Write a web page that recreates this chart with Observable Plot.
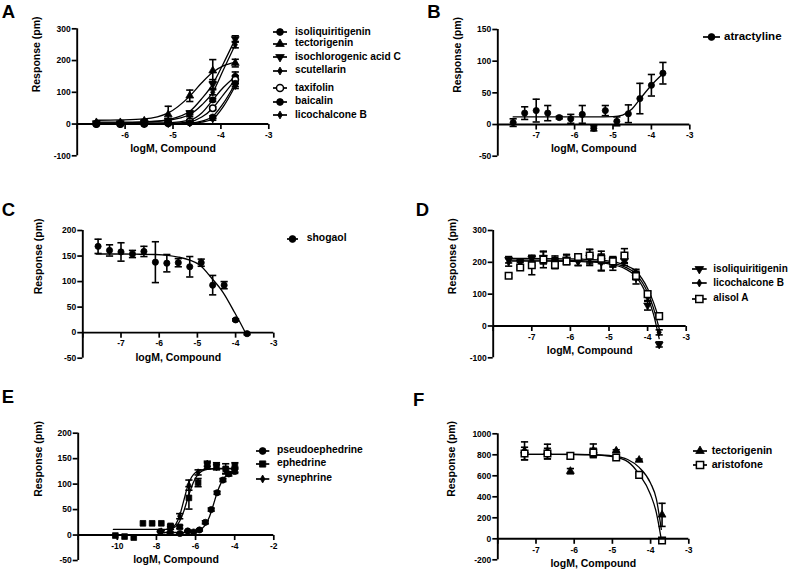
<!DOCTYPE html>
<html><head><meta charset="utf-8">
<script src="https://cdn.jsdelivr.net/npm/d3@7"></script>
<script src="https://cdn.jsdelivr.net/npm/@observablehq/plot@0.6"></script>
<style>
body{margin:0;background:#fff;}
#fig{position:relative;width:789px;height:570px;overflow:hidden;background:#fff;font-family:"Liberation Sans",Arial,Helvetica,sans-serif;font-weight:bold;color:#000;}
.letter{position:absolute;font-size:18.5px;font-weight:bold;line-height:1;}
.ltext{position:absolute;white-space:nowrap;font-weight:bold;}
</style></head><body><div id="fig"></div>
<script>
// ---------------- DATA ----------------
// Panel A
const aConc = [-6.6, -6.1, -5.6, -5.1, -4.65, -4.17, -3.7];
const aIsoliquiritigenin = [0, 0, 2, 4, 10, 76, 150];
const aIsoliquiritigeninSem = [2, 2, 2, 3, 4, 5, 14];
const aTectorigenin = [5, 5, 10, 30, 89, 168, 192];
const aTectorigeninSem = [3, 3, 4, 26, 18, 35, 12];
const aIsochlorogenicAcidC = [3, 3, 5, 12, 35, 126, 268];
const aIsochlorogenicAcidCSem = [2, 2, 3, 4, 6, 14, 10];
const aScutellarin = [4, 4, 6, 10, 28, 100, 250];
const aScutellarinSem = [2, 2, 2, 3, 5, 8, 10];
const aTaxifolin = [0, 0, 1, 3, 8, 50, 140];
const aTaxifolinSem = [1, 1, 1, 2, 3, 5, 12];
const aBaicalin = [0, 0, 0, 2, 4, 22, 128];
const aBaicalinSem = [1, 1, 1, 1, 2, 4, 10];
const aLicochalconeB = [0, 0, 0, 0, 2, 15, 120];
const aLicochalconeBSem = [1, 1, 1, 1, 2, 3, 8];
const aFitConc = [-6.6, -6.1, -5.6, -5.1, -4.65, -4.4, -4.17, -3.95, -3.7];
const aFitIsoliquiritigenin = [2, 2, 3, 4, 12, 35, 76, 115, 150];
const aFitTectorigenin = [12, 13, 16, 35, 88, 130, 163, 183, 194];
const aFitIsochlorogenicAcidC = [4, 4, 6, 14, 40, 80, 126, 190, 268];
const aFitScutellarin = [6, 6, 7, 12, 30, 60, 100, 170, 250];
const aFitTaxifolin = [1, 1, 1, 2, 7, 22, 50, 92, 140];
const aFitBaicalin = [0, 0, 0, 1, 3, 9, 24, 65, 128];
const aFitLicochalconeB = [0, 0, 0, 0, 2, 6, 16, 55, 120];
const aXTicks = [-7, -6, -5, -4, -3];
const aXLabels = [-6, -5, -4, -3];
const aYTicks = [-100, 0, 100, 200, 300];

// Panel B
const bConc = [-7.6, -7.3, -7.0, -6.7, -6.4, -6.1, -5.8, -5.5, -5.2, -4.9, -4.6, -4.3, -4.0, -3.7];
const bAtractyline = [3, 18, 22, 18, 11, 9, 16, -6, 22, 5, 17, 41, 62, 81];
const bAtractylineSem = [6, 10, 18, 12, 2, 7, 14, 4, 8, 7, 14, 24, 17, 17];
const bFitConc = [-7.6, -5.5, -5.0, -4.75, -4.5, -4.3, -4.0, -3.7];
const bFitAtractyline = [12, 12, 12.5, 15, 25, 40, 62, 80];
const bXTicks = [-8, -7, -6, -5, -4, -3];
const bXLabels = [-7, -6, -5, -4, -3];
const bYTicks = [-50, 0, 50, 100, 150];

// Panel C
const cConc = [-7.6, -7.3, -7.0, -6.7, -6.4, -6.1, -5.8, -5.5, -5.2, -4.9, -4.6, -4.3, -4.0, -3.7];
const cShogaol = [169, 161, 158, 154, 159, 138, 136, 137, 129, 137, 93, 93, 25, -2];
const cShogaolSem = [14, 11, 18, 7, 10, 40, 17, 8, 20, 7, 19, 7, 2, 2];
const cFitConc = [-7.65, -7, -6.5, -6.1, -5.5, -5.2, -4.93, -4.63, -4.33, -4.03, -3.84, -3.73];
const cFitShogaol = [154, 154, 153.5, 153, 148, 142, 132, 107, 79, 40, 14, -2];
const cXTicks = [-8, -7, -6, -5, -4, -3];
const cXLabels = [-7, -6, -5, -4, -3];
const cYTicks = [-50, 0, 50, 100, 150, 200];

// Panel D
const dConc = [-7.6, -7.3, -7.0, -6.7, -6.4, -6.1, -5.8, -5.5, -5.2, -4.9, -4.6, -4.3, -4.0, -3.7];
const dIsoliquiritigenin = [208, 200, 212, 215, 205, 210, 205, 215, 205, 195, 205, 152, 65, -58];
const dIsoliquiritigeninSem = [10, 10, 10, 20, 15, 15, 15, 25, 30, 20, 15, 20, 15, 8];
const dLicochalconeB = [200, 192, 205, 208, 200, 208, 200, 210, 198, 200, 212, 168, 90, -20];
const dLicochalconeBSem = [12, 8, 15, 25, 15, 15, 10, 15, 25, 15, 15, 10, 12, 8];
const dAlisolA = [158, 184, 191, 209, 192, 203, 217, 221, 211, 203, 221, 157, 100, 31];
const dAlisolASem = [6, 6, 30, 10, 12, 8, 8, 20, 15, 15, 22, 12, 8, 6];
const dFitConc = [-7.6, -7, -6, -5.5, -5, -4.6, -4.3, -4.0, -3.85, -3.7];
const dFitIsoliquiritigenin = [204, 204, 203, 201, 195, 181, 155, 90, 38, -40];
const dFitLicochalconeB = [207, 207, 206, 204, 199, 186, 163, 105, 57, -8];
const dFitAlisolA = [212, 212, 211, 209, 204, 192, 172, 118, 75, 20];
const dXTicks = [-8, -7, -6, -5, -4, -3];
const dXLabels = [-7, -6, -5, -4, -3];
const dYTicks = [-100, 0, 100, 200, 300];

// Panel E
const ePseudoConc = [-7.8, -7.3, -6.8, -6.4, -6.1, -5.8, -5.5, -5.2, -4.9, -4.6, -4.3, -4.0];
const ePseudoephedrine = [7, 5, 3, 8, 6, 10, 25, 50, 83, 108, 120, 125];
const ePseudoephedrineSem = [1, 1, 1, 1, 1, 2, 3, 3, 3, 3, 4, 4];
const eEphConc = [-10.1, -9.63, -9.16, -8.69, -8.22, -7.75, -7.28, -6.81, -6.34, -5.87, -5.4, -4.93, -4.46, -3.99];
const eEphedrine = [-1, -3, -5, 23, 23, 23, 18, 16, 73, 103, 136, 136, 130, 136];
const eEphedrineSem = [0, 0, 0, 0, 0, 0, 2, 3, 22, 8, 6, 6, 10, 6];
const eSynConc = [-7.75, -7.28, -6.81, -6.34, -5.87, -5.4, -4.93, -4.46, -3.99];
const eSynephrine = [7, 14, 37, 98, 123, 140, 133, 126, 128];
const eSynephrineSem = [2, 3, 5, 10, 5, 5, 5, 5, 5];
const ePseudoFitConc = [-7.8, -6.5, -6.0, -5.7, -5.5, -5.3, -5.1, -4.9, -4.7, -4.5, -4.3, -4.0];
const ePseudoFit = [5, 5, 7, 12, 20, 35, 58, 83, 102, 114, 120, 124];
const eEphFitConc = [-10.2, -7.5, -7.2, -7.0, -6.8, -6.6, -6.4, -6.2, -6.0, -5.8, -5.5, -5.0, -4.0];
const eEphFit = [11, 11, 13, 17, 28, 47, 72, 95, 112, 122, 128, 131, 131];
const eSynFitConc = [-7.5, -7.2, -7.0, -6.8, -6.6, -6.4, -6.2, -6.0, -5.8, -5.5, -5.0, -4.0];
const eSynFit = [11, 14, 22, 40, 68, 96, 114, 123, 127, 129, 130, 130];
const eXTicks = [-12, -10, -8, -6, -4, -2];
const eXLabels = [-10, -8, -6, -4, -2];
const eYTicks = [-50, 0, 50, 100, 150, 200];

// Panel F
const fConc = [-7.3, -6.7, -6.1, -5.5, -4.9, -4.3, -3.7];
const fTectorigenin = [838, 831, 644, 838, 838, 750, 228];
const fTectorigeninSem = [85, 70, 25, 65, 10, 10, 110];
const fAristofone = [812, 812, 790, 822, 775, 609, -16];
const fAristofoneSem = [60, 50, 25, 40, 15, 15, 10];
const fFitConc = [-7.3, -6, -5.5, -5.0, -4.6, -4.3, -4.0, -3.85, -3.72];
const fFitTectorigenin = [805, 804, 801, 790, 755, 680, 530, 380, 90];
const fFitAristofone = [805, 803, 799, 782, 735, 615, 420, 250, -5];
const fXTicks = [-8, -7, -6, -5, -4, -3];
const fXLabels = [-7, -6, -5, -4, -3];
const fYTicks = [-200, 0, 200, 400, 600, 800, 1000];

// ---------------- SYMBOLS / STYLES ----------------
const S3 = Math.sqrt(3);
const triDown = {draw(ctx, size) {const y = Math.sqrt(size / (S3 * 3)); ctx.moveTo(0, 2 * y); ctx.lineTo(-S3 * y, -y); ctx.lineTo(S3 * y, -y); ctx.closePath();}};
const capSym = {draw(ctx, size) {const r = Math.sqrt(size / Math.PI); ctx.moveTo(-r, 0); ctx.lineTo(r, 0);}};
const tickSym = {draw(ctx, size) {const r = Math.sqrt(size / Math.PI); ctx.moveTo(0, 0); ctx.lineTo(0, r);}};
const ST = {
  fcircle: {symbol: d3.symbolCircle, fill: "#000", r: 3.1},
  tri: {symbol: d3.symbolTriangle, fill: "#000", r: 2.9},
  tridown: {symbol: triDown, fill: "#000", r: 2.9},
  diamond: {symbol: d3.symbolDiamond, fill: "#000", r: 2.2},
  ocircle: {symbol: d3.symbolCircle, fill: "#fff", r: 3.2},
  osquare: {symbol: d3.symbolSquare, fill: "#fff", r: 3.7},
  fsquare: {symbol: d3.symbolSquare, fill: "#000", r: 3.2}
};

const fig = document.getElementById("fig");
const FONT = "'Liberation Sans', Arial, Helvetica, sans-serif";

function rows(xs, ys, es) { return xs.map((x, i) => ({x, y: ys[i], e: es ? es[i] : 0})); }

function drawPanel(cfg) {
  const {left, top, w, h, fx0, fx1, fy0, fy1, xDomain, yDomain, xTicks, xLabels, yTicks, series, fits, titleDx} = cfg;
  const marks = [];
  for (const f of fits) marks.push(Plot.line(rows(f.x, f.y), {x: "x", y: "y", curve: "monotone-x", stroke: "#000", strokeWidth: 1.3}));
  for (const s of series) {
    const data = rows(s.x, s.y, s.e).filter(d => d.e > 0);
    marks.push(Plot.ruleX(data, {x: "x", y1: d => d.y - d.e, y2: d => d.y + d.e, stroke: "#000", strokeWidth: 1.6}));
    marks.push(Plot.dot(data, {x: "x", y: d => d.y + d.e, symbol: capSym, r: 3.6, stroke: "#000", strokeWidth: 1.6, fill: "none"}));
    marks.push(Plot.dot(data, {x: "x", y: d => d.y - d.e, symbol: capSym, r: 3.6, stroke: "#000", strokeWidth: 1.6, fill: "none"}));
  }
  for (const s of series) {
    marks.push(Plot.dot(rows(s.x, s.y), {x: "x", y: "y", symbol: s.style.symbol, r: s.style.r, fill: s.style.fill, stroke: "#000", strokeWidth: s.style.fill === "#fff" ? 1.5 : 0.8}));
  }
  marks.push(Plot.ruleY([0], {stroke: "#000", strokeWidth: 1.9}));
  marks.push(Plot.ruleX([xDomain[0]], {stroke: "#000", strokeWidth: 1.9}));
  marks.push(Plot.dot(xTicks, {x: d => d, y: () => 0, symbol: tickSym, r: 5, stroke: "#000", strokeWidth: 1.7, fill: "none"}));
  marks.push(Plot.text(xLabels, {x: d => d, y: () => 0, text: d => String(d), dy: 11, fontSize: 8.5}));
  marks.push(Plot.axisY({ticks: yTicks, tickSize: 5, tickPadding: 1.5, tickFormat: d => String(d), strokeWidth: 1.7, fontSize: 8.5, label: null}));
  marks.push(Plot.text(["Response (pm)"], {text: d => d, frameAnchor: "left", rotate: -90, dx: titleDx, fontSize: 10.5}));
  marks.push(Plot.text(["logM, Compound"], {text: d => d, y: () => 0, dy: 24.5, fontSize: 10.5}));
  const svg = Plot.plot({
    width: w, height: h,
    marginLeft: fx0 - left, marginRight: left + w - fx1, marginTop: fy0 - top, marginBottom: top + h - fy1,
    x: {domain: xDomain, axis: null},
    y: {domain: yDomain},
    style: {fontFamily: FONT, fontWeight: "bold", fontSize: "8.5px", background: "transparent", overflow: "visible", color: "#000"},
    marks
  });
  svg.style.position = "absolute";
  svg.style.left = left + "px";
  svg.style.top = top + "px";
  svg.style.maxWidth = "none";
  fig.appendChild(svg);
}

function addLetter(t, x, capTop) {
  const d = document.createElement("div");
  d.className = "letter"; d.textContent = t;
  d.style.left = x + "px"; d.style.top = (capTop - 2.4) + "px";
  fig.appendChild(d);
}

function addLegend(entries, x0, x1, tx, fs) {
  for (const e of entries) {
    const lw = x1 - x0;
    const svg = d3.select(fig).append("svg").style("position", "absolute").style("left", (x0 - 4) + "px").style("top", (e.y - 7) + "px")
      .attr("width", lw + 8).attr("height", 14).style("overflow", "visible");
    svg.append("line").attr("x1", 4).attr("x2", lw + 4).attr("y1", 7).attr("y2", 7).attr("stroke", "#000").attr("stroke-width", 1.7);
    const r = e.style.r * 1.1;
    svg.append("path").attr("d", d3.symbol(e.style.symbol, Math.PI * r * r)()).attr("transform", `translate(${lw / 2 + 4},7)`)
      .attr("fill", e.style.fill).attr("stroke", "#000").attr("stroke-width", e.style.fill === "#fff" ? 1.5 : 0.8);
    d3.select(fig).append("div").attr("class", "ltext").style("left", tx + "px").style("top", (e.y - 0.55 * fs) + "px")
      .style("font-size", fs + "px").style("line-height", fs + "px").text(e.name);
  }
}

// ---------------- PANELS ----------------
drawPanel({left: 0, top: 0, w: 282, h: 185, fx0: 76.7, fx1: 268.3, fy0: 28.3, fy1: 155.3,
  xDomain: [-7, -3], yDomain: [-100, 300], xTicks: aXTicks, xLabels: aXLabels, yTicks: aYTicks, titleDx: -40.5,
  fits: [
    {x: aFitConc, y: aFitIsoliquiritigenin}, {x: aFitConc, y: aFitTectorigenin}, {x: aFitConc, y: aFitIsochlorogenicAcidC},
    {x: aFitConc, y: aFitScutellarin}, {x: aFitConc, y: aFitTaxifolin}, {x: aFitConc, y: aFitBaicalin}, {x: aFitConc, y: aFitLicochalconeB}],
  series: [
    {x: aConc, y: aIsoliquiritigenin, e: aIsoliquiritigeninSem, style: ST.fcircle},
    {x: aConc, y: aTectorigenin, e: aTectorigeninSem, style: ST.tri},
    {x: aConc, y: aIsochlorogenicAcidC, e: aIsochlorogenicAcidCSem, style: ST.tridown},
    {x: aConc, y: aScutellarin, e: aScutellarinSem, style: ST.diamond},
    {x: aConc, y: aTaxifolin, e: aTaxifolinSem, style: ST.ocircle},
    {x: aConc, y: aBaicalin, e: aBaicalinSem, style: ST.fcircle},
    {x: aConc, y: aLicochalconeB, e: aLicochalconeBSem, style: ST.diamond}]
});
drawPanel({left: 395, top: 0, w: 300, h: 185, fx0: 497.3, fx1: 689.3, fy0: 29, fy1: 155.7,
  xDomain: [-8, -3], yDomain: [-50, 150], xTicks: bXTicks, xLabels: bXLabels, yTicks: bYTicks, titleDx: -40.6,
  fits: [{x: bFitConc, y: bFitAtractyline}],
  series: [{x: bConc, y: bAtractyline, e: bAtractylineSem, style: ST.fcircle}]
});
drawPanel({left: 0, top: 190, w: 282, h: 185, fx0: 82.3, fx1: 273.3, fy0: 230, fy1: 357.7,
  xDomain: [-8, -3], yDomain: [-50, 200], xTicks: cXTicks, xLabels: cXLabels, yTicks: cYTicks, titleDx: -44,
  fits: [{x: cFitConc, y: cFitShogaol}],
  series: [{x: cConc, y: cShogaol, e: cShogaolSem, style: ST.fcircle}]
});
drawPanel({left: 395, top: 190, w: 300, h: 185, fx0: 492.7, fx1: 685.7, fy0: 230, fy1: 357.3,
  xDomain: [-8, -3], yDomain: [-100, 300], xTicks: dXTicks, xLabels: dXLabels, yTicks: dYTicks, titleDx: -41,
  fits: [{x: dFitConc, y: dFitIsoliquiritigenin}, {x: dFitConc, y: dFitLicochalconeB}, {x: dFitConc, y: dFitAlisolA}],
  series: [
    {x: dConc, y: dIsoliquiritigenin, e: dIsoliquiritigeninSem, style: ST.tridown},
    {x: dConc, y: dLicochalconeB, e: dLicochalconeBSem, style: ST.diamond},
    {x: dConc, y: dAlisolA, e: dAlisolASem, style: ST.osquare}]
});
drawPanel({left: 0, top: 380, w: 282, h: 190, fx0: 77.7, fx1: 273.3, fy0: 432.7, fy1: 560,
  xDomain: [-12, -2], yDomain: [-50, 200], xTicks: eXTicks, xLabels: eXLabels, yTicks: eYTicks, titleDx: -39.4,
  fits: [{x: ePseudoFitConc, y: ePseudoFit}, {x: eEphFitConc, y: eEphFit}, {x: eSynFitConc, y: eSynFit}],
  series: [
    {x: ePseudoConc, y: ePseudoephedrine, e: ePseudoephedrineSem, style: ST.fcircle},
    {x: eEphConc, y: eEphedrine, e: eEphedrineSem, style: ST.fsquare},
    {x: eSynConc, y: eSynephrine, e: eSynephrineSem, style: ST.diamond}]
});
drawPanel({left: 395, top: 380, w: 300, h: 190, fx0: 497.3, fx1: 688.3, fy0: 433.3, fy1: 559.3,
  xDomain: [-8, -3], yDomain: [-200, 1000], xTicks: fXTicks, xLabels: fXLabels, yTicks: fYTicks, titleDx: -46,
  fits: [{x: fFitConc, y: fFitTectorigenin}, {x: fFitConc, y: fFitAristofone}],
  series: [
    {x: fConc, y: fTectorigenin, e: fTectorigeninSem, style: ST.tri},
    {x: fConc, y: fAristofone, e: fAristofoneSem, style: ST.osquare}]
});

// ---------------- LEGENDS ----------------
addLegend([
  {name: "isoliquiritigenin", y: 32.3, style: ST.fcircle},
  {name: "tectorigenin", y: 44, style: ST.tri},
  {name: "isochlorogenic acid C", y: 57.3, style: ST.tridown},
  {name: "scutellarin", y: 71, style: ST.diamond},
  {name: "taxifolin", y: 88.3, style: ST.ocircle},
  {name: "baicalin", y: 101.7, style: ST.fcircle},
  {name: "licochalcone B", y: 115.3, style: ST.diamond}], 273, 287, 295, 10.2);
addLegend([{name: "atractyline", y: 37, style: ST.fcircle}], 703, 720, 724, 11.5);
addLegend([{name: "shogaol", y: 239, style: ST.fcircle}], 287, 298, 306.7, 10.4);
addLegend([
  {name: "isoliquiritigenin", y: 269, style: ST.tridown},
  {name: "licochalcone B", y: 283.3, style: ST.diamond},
  {name: "alisol A", y: 298.7, style: ST.osquare}], 692, 706.7, 713.3, 10);
addLegend([
  {name: "pseudoephedrine", y: 450.7, style: ST.fcircle},
  {name: "ephedrine", y: 464, style: ST.fsquare},
  {name: "synephrine", y: 479, style: ST.diamond}], 256, 269.3, 277, 10.3);
addLegend([
  {name: "tectorigenin", y: 450.7, style: ST.tri},
  {name: "aristofone", y: 464.7, style: ST.osquare}], 692.7, 706.7, 711.7, 10.6);

// ---------------- LETTERS ----------------
addLetter("A", 1.7, 5);
addLetter("B", 427.3, 5);
addLetter("C", 1.7, 203);
addLetter("D", 415.7, 203.3);
addLetter("E", 1.7, 390);
addLetter("F", 413, 393);
</script></body></html>
